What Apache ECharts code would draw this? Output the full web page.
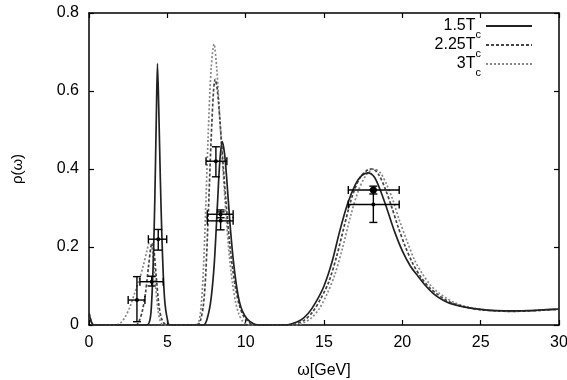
<!DOCTYPE html>
<html><head><meta charset="utf-8">
<script src="https://cdn.jsdelivr.net/npm/echarts@6/dist/echarts.min.js"></script>
<style>html,body{margin:0;padding:0;background:#fff}#c{width:567px;height:380px}</style>
</head><body><div id="c"></div>
<script>
const seriesNames = ['1.5Tc', '2.25Tc', '3Tc'];
const legendMain = ['1.5T', '2.25T', '3T'];

const curve15 = [[0,0.03],[0.15,0.008],[0.3,0],[3.7,0],[3.9,0.015],[4.0,0.06],[4.1,0.16],[4.2,0.32],[4.3,0.54],[4.37,0.67],[4.45,0.56],[4.55,0.38],[4.65,0.23],[4.75,0.12],[4.85,0.055],[5.0,0.015],[5.15,0],[7.3,0],[7.6,0.025],[7.8,0.07],[8.0,0.16],[8.2,0.31],[8.35,0.42],[8.5,0.47],[8.65,0.44],[8.8,0.37],[9.0,0.26],[9.2,0.17],[9.4,0.105],[9.6,0.06],[9.8,0.035],[10.1,0.015],[10.5,0.003],[10.8,0],[12.5,0],[13.0,0.004],[13.5,0.012],[14.0,0.03],[14.5,0.06],[15.0,0.1],[15.5,0.16],[16.0,0.24],[16.5,0.31],[17.0,0.36],[17.4,0.383],[17.8,0.39],[18.2,0.38],[18.6,0.345],[19.0,0.3],[19.5,0.24],[20.0,0.19],[20.5,0.152],[21.0,0.125],[21.5,0.1],[22.0,0.08],[22.5,0.066],[23.0,0.056],[24.0,0.046],[25.0,0.04],[26.0,0.037],[27,0.036],[28,0.037],[29,0.039],[30,0.041]];

const curve225 = [[0,0.03],[0.15,0.008],[0.3,0],[3.0,0],[3.2,0.01],[3.4,0.035],[3.6,0.08],[3.8,0.15],[3.95,0.2],[4.05,0.21],[4.15,0.19],[4.3,0.12],[4.45,0.055],[4.6,0.02],[4.8,0.004],[5.0,0],[6.9,0],[7.1,0.01],[7.3,0.05],[7.45,0.13],[7.6,0.27],[7.8,0.48],[7.95,0.6],[8.05,0.63],[8.2,0.6],[8.4,0.5],[8.6,0.39],[8.8,0.29],[9.0,0.2],[9.2,0.135],[9.4,0.085],[9.6,0.05],[9.9,0.02],[10.3,0.004],[10.6,0],[12.8,0],[13.3,0.004],[13.8,0.014],[14.3,0.035],[14.8,0.068],[15.3,0.11],[15.8,0.175],[16.3,0.255],[16.8,0.33],[17.3,0.378],[17.8,0.398],[18.1,0.4],[18.5,0.385],[18.9,0.35],[19.3,0.305],[19.7,0.255],[20.2,0.2],[20.7,0.155],[21.2,0.122],[21.7,0.097],[22.2,0.08],[22.7,0.066],[23.2,0.056],[24.0,0.046],[25.0,0.039],[26,0.036],[27,0.035],[28,0.036],[29,0.038],[30,0.04]];

const curve3 = [[0,0.03],[0.15,0.008],[0.3,0],[1.7,0],[2.0,0.005],[2.3,0.02],[2.6,0.045],[2.9,0.08],[3.2,0.115],[3.45,0.15],[3.7,0.19],[3.85,0.21],[3.95,0.21],[4.1,0.17],[4.25,0.1],[4.4,0.04],[4.55,0.01],[4.75,0],[6.8,0],[7.0,0.008],[7.15,0.045],[7.3,0.14],[7.45,0.3],[7.6,0.48],[7.8,0.66],[7.98,0.72],[8.15,0.66],[8.35,0.53],[8.55,0.4],[8.75,0.28],[8.95,0.18],[9.15,0.11],[9.35,0.06],[9.55,0.03],[9.8,0.01],[10.2,0],[13.2,0],[13.7,0.006],[14.2,0.018],[14.7,0.042],[15.2,0.08],[15.7,0.13],[16.2,0.2],[16.7,0.28],[17.2,0.345],[17.7,0.385],[18.2,0.4],[18.6,0.39],[19.0,0.36],[19.4,0.32],[19.8,0.27],[20.3,0.215],[20.8,0.165],[21.3,0.13],[21.8,0.102],[22.3,0.083],[22.8,0.069],[23.3,0.058],[24.0,0.048],[25.0,0.04],[26,0.036],[27,0.035],[28,0.036],[29,0.038],[30,0.04]];

// error bar points: centre, x-range, y-range
const errX   = [3.06, 4.0, 4.42, 8.1, 8.4, 8.4, 18.15, 18.15];
const errY   = [0.064, 0.111, 0.22, 0.42, 0.284, 0.267, 0.346, 0.309];
const errXlo = [2.5, 3.25, 3.79, 7.47, 7.55, 7.55, 16.55, 16.55];
const errXhi = [3.57, 4.74, 4.96, 8.8, 9.2, 9.2, 19.8, 19.8];
const errYlo = [0.0085, 0.1, 0.192, 0.38, 0.275, 0.244, 0.336, 0.263];
const errYhi = [0.124, 0.125, 0.245, 0.457, 0.295, 0.29, 0.356, 0.346];

const errData = errX.map((x, i) => [x, errY[i], errXlo[i], errXhi[i], errYlo[i], errYhi[i]]);

function st() { return { stroke: '#000', lineWidth: 1.4, fill: null }; }
function renderErr(params, api) {
  const x = api.value(0), y = api.value(1);
  const c = api.coord([x, y]);
  const l = api.coord([api.value(2), y]);
  const r = api.coord([api.value(3), y]);
  const b = api.coord([x, api.value(4)]);
  const t = api.coord([x, api.value(5)]);
  const cap = 4;
  const ch = [
    { type: 'line', shape: { x1: l[0], y1: c[1], x2: r[0], y2: c[1] }, style: st() },
    { type: 'line', shape: { x1: l[0], y1: c[1] - cap, x2: l[0], y2: c[1] + cap }, style: st() },
    { type: 'line', shape: { x1: r[0], y1: c[1] - cap, x2: r[0], y2: c[1] + cap }, style: st() },
    { type: 'line', shape: { x1: c[0], y1: b[1], x2: c[0], y2: t[1] }, style: st() },
    { type: 'line', shape: { x1: c[0] - cap, y1: b[1], x2: c[0] + cap, y2: b[1] }, style: st() },
    { type: 'line', shape: { x1: c[0] - cap, y1: t[1], x2: c[0] + cap, y2: t[1] }, style: st() }
  ];
  const rad = params.dataIndex === 6 ? 3.5 : 2;
  ch.push({ type: 'circle', shape: { cx: c[0], cy: c[1], r: rad }, style: { fill: '#000' } });
  return { type: 'group', children: ch };
}

const FONT = 'Liberation Sans';
const chart = echarts.init(document.getElementById('c'), null, { renderer: 'canvas' });

function xAx(pos) {
  return {
    type: 'value', min: 0, max: 30, interval: 5, position: pos,
    axisLine: { show: true, onZero: false, lineStyle: { color: '#000', width: 1.5 } },
    axisTick: { show: true, inside: true, length: 5, lineStyle: { color: '#000', width: 1.2 } },
    axisLabel: { show: pos === 'bottom', color: '#000', fontSize: 16, fontFamily: FONT, margin: 10 },
    splitLine: { show: false },
    name: pos === 'bottom' ? 'ω[GeV]' : '',
    nameLocation: 'middle', nameGap: 38,
    nameTextStyle: { color: '#000', fontSize: 16, fontFamily: FONT }
  };
}
function yAx(pos) {
  return {
    type: 'value', min: 0, max: 0.8, interval: 0.2, position: pos,
    axisLine: { show: true, onZero: false, lineStyle: { color: '#000', width: 1.5 } },
    axisTick: { show: true, inside: true, length: 5, lineStyle: { color: '#000', width: 1.2 } },
    axisLabel: { show: pos === 'left', color: '#000', fontSize: 16, fontFamily: FONT, margin: 10 },
    splitLine: { show: false },
    name: pos === 'left' ? 'ρ(ω)' : '',
    nameLocation: 'middle', nameGap: 64, nameRotate: 90,
    nameTextStyle: { color: '#000', fontSize: 15, fontFamily: FONT }
  };
}

const lineStyles = [
  { color: '#222', width: 1.7, type: 'solid' },
  { color: '#444', width: 1.7, type: [3, 2] },
  { color: '#888', width: 1.7, type: [2, 2] }
];
const curves = [curve15, curve225, curve3];

const series = curves.map((d, i) => ({
  name: seriesNames[i], type: 'line', data: d, xAxisIndex: 0, yAxisIndex: 0,
  symbol: 'none', showSymbol: false, smooth: 0.3, animation: false,
  lineStyle: lineStyles[i], itemStyle: { color: lineStyles[i].color }, z: 3 - i
}));
series.push({
  type: 'custom', name: 'err', data: errData, renderItem: renderErr,
  encode: { x: [0, 2, 3], y: [1, 4, 5] }, xAxisIndex: 0, yAxisIndex: 0,
  z: 10, animation: false, silent: true
});

chart.setOption({
  backgroundColor: '#fff',
  animation: false,
  grid: { left: 89, right: 8, top: 13, bottom: 55, containLabel: false, outerBoundsMode: 'none' },
  xAxis: [xAx('bottom'), xAx('top')],
  yAxis: [yAx('left'), yAx('right')],
  legend: {
    show: true, orient: 'vertical', right: 29, top: 13, align: 'right',
    itemWidth: 46, itemHeight: 14, itemGap: -3,
    data: seriesNames,
    itemStyle: { opacity: 0 },
    formatter: (n) => '{m|' + legendMain[seriesNames.indexOf(n)] + '}{s|c}',
    textStyle: {
      color: '#000', fontFamily: FONT, fontSize: 16,
      rich: {
        m: { fontSize: 16, fontFamily: FONT, color: '#000' },
        s: { fontSize: 11, fontFamily: FONT, color: '#000', padding: [17, 0, 0, 0] }
      }
    }
  },
  series: series
});
</script></body></html>
